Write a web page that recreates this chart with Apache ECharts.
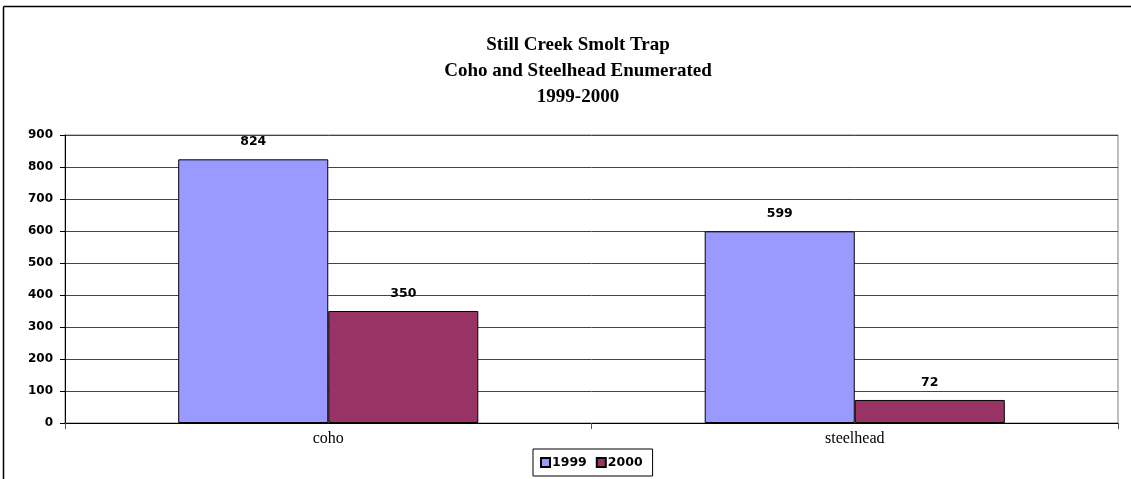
<!DOCTYPE html>
<html>
<head>
<meta charset="utf-8">
<style>
  html, body { margin: 0; padding: 0; background: #ffffff; }
  #chart { width: 1131px; height: 479px; }
</style>
<script src="https://cdn.jsdelivr.net/npm/echarts@6/dist/echarts.min.js"></script>
</head>
<body>
<div id="chart"></div>
<script>
// Smolt trap counts by species and year
const categories = ['coho', 'steelhead'];
const seriesNames = ['1999', '2000'];
const counts1999 = [824, 599];
const counts2000 = [350, 72];
const yTicks = { min: 0, max: 900, interval: 100 };
const titleLines = ['Still Creek Smolt Trap', 'Coho and Steelhead Enumerated', '1999-2000'];

const chart = echarts.init(document.getElementById('chart'));

const valueLabel = {
  show: true,
  position: 'top',
  distance: 11,
  color: '#000',
  fontFamily: 'DejaVu Sans',
  fontWeight: 'bold',
  fontSize: 12.5
};

chart.setOption({
  backgroundColor: '#ffffff',
  animation: false,
  title: {
    text: titleLines.join('\n'),
    left: 573,
    textAlign: 'center',
    top: 27,
    textStyle: {
      fontFamily: 'Liberation Serif',
      fontWeight: 'bold',
      fontSize: 19,
      lineHeight: 26,
      color: '#000'
    }
  },
  legend: {
    data: seriesNames,
    left: 533,
    top: 449,
    orient: 'horizontal',
    padding: [7, 10, 7, 7],
    borderColor: '#000',
    borderWidth: 1,
    itemWidth: 9,
    itemHeight: 9,
    itemGap: 9,
    icon: 'rect',
    textStyle: {
      fontFamily: 'DejaVu Sans',
      fontWeight: 'bold',
      fontSize: 12.5,
      color: '#000',
      padding: [0, 0, 0, -3]
    }
  },
  grid: {
    left: 65,
    right: 13,
    top: 135,
    bottom: 56,
    show: true,
    borderColor: '#808080',
    borderWidth: 1
  },
  xAxis: {
    type: 'category',
    data: categories,
    axisLine: { lineStyle: { color: '#000', width: 1 } },
    axisTick: { show: true, alignWithLabel: false, length: 6, lineStyle: { color: '#555' } },
    axisLabel: {
      fontFamily: 'Liberation Serif',
      fontSize: 16,
      color: '#000',
      margin: 8
    }
  },
  yAxis: {
    type: 'value',
    min: yTicks.min,
    max: yTicks.max,
    interval: yTicks.interval,
    axisLine: { show: true, lineStyle: { color: '#000', width: 1 } },
    axisTick: { show: true, length: 5, lineStyle: { color: '#000' } },
    splitLine: { show: true, lineStyle: { color: '#444', width: 1 } },
    axisLabel: {
      fontFamily: 'DejaVu Sans',
      fontWeight: 'bold',
      fontSize: 12,
      color: '#000',
      margin: 12
    }
  },
  series: [
    {
      name: seriesNames[0],
      type: 'bar',
      data: counts1999,
      barGap: '0%',
      barCategoryGap: '43%',
      itemStyle: { color: '#9999FF', borderColor: '#000', borderWidth: 1 },
      label: valueLabel
    },
    {
      name: seriesNames[1],
      type: 'bar',
      data: counts2000,
      barGap: '0%',
      barCategoryGap: '43%',
      itemStyle: { color: '#993366', borderColor: '#000', borderWidth: 1 },
      label: valueLabel
    }
  ],
  graphic: [
    // outer chart frame (top and left edges)
    { type: 'line', shape: { x1: 3.5, y1: 6.5, x2: 1131, y2: 6.5 }, style: { stroke: '#000', lineWidth: 1.5 }, silent: true },
    { type: 'line', shape: { x1: 3.5, y1: 6.5, x2: 3.5, y2: 479 }, style: { stroke: '#000', lineWidth: 1.5 }, silent: true }
  ]
});
</script>
</body>
</html>
